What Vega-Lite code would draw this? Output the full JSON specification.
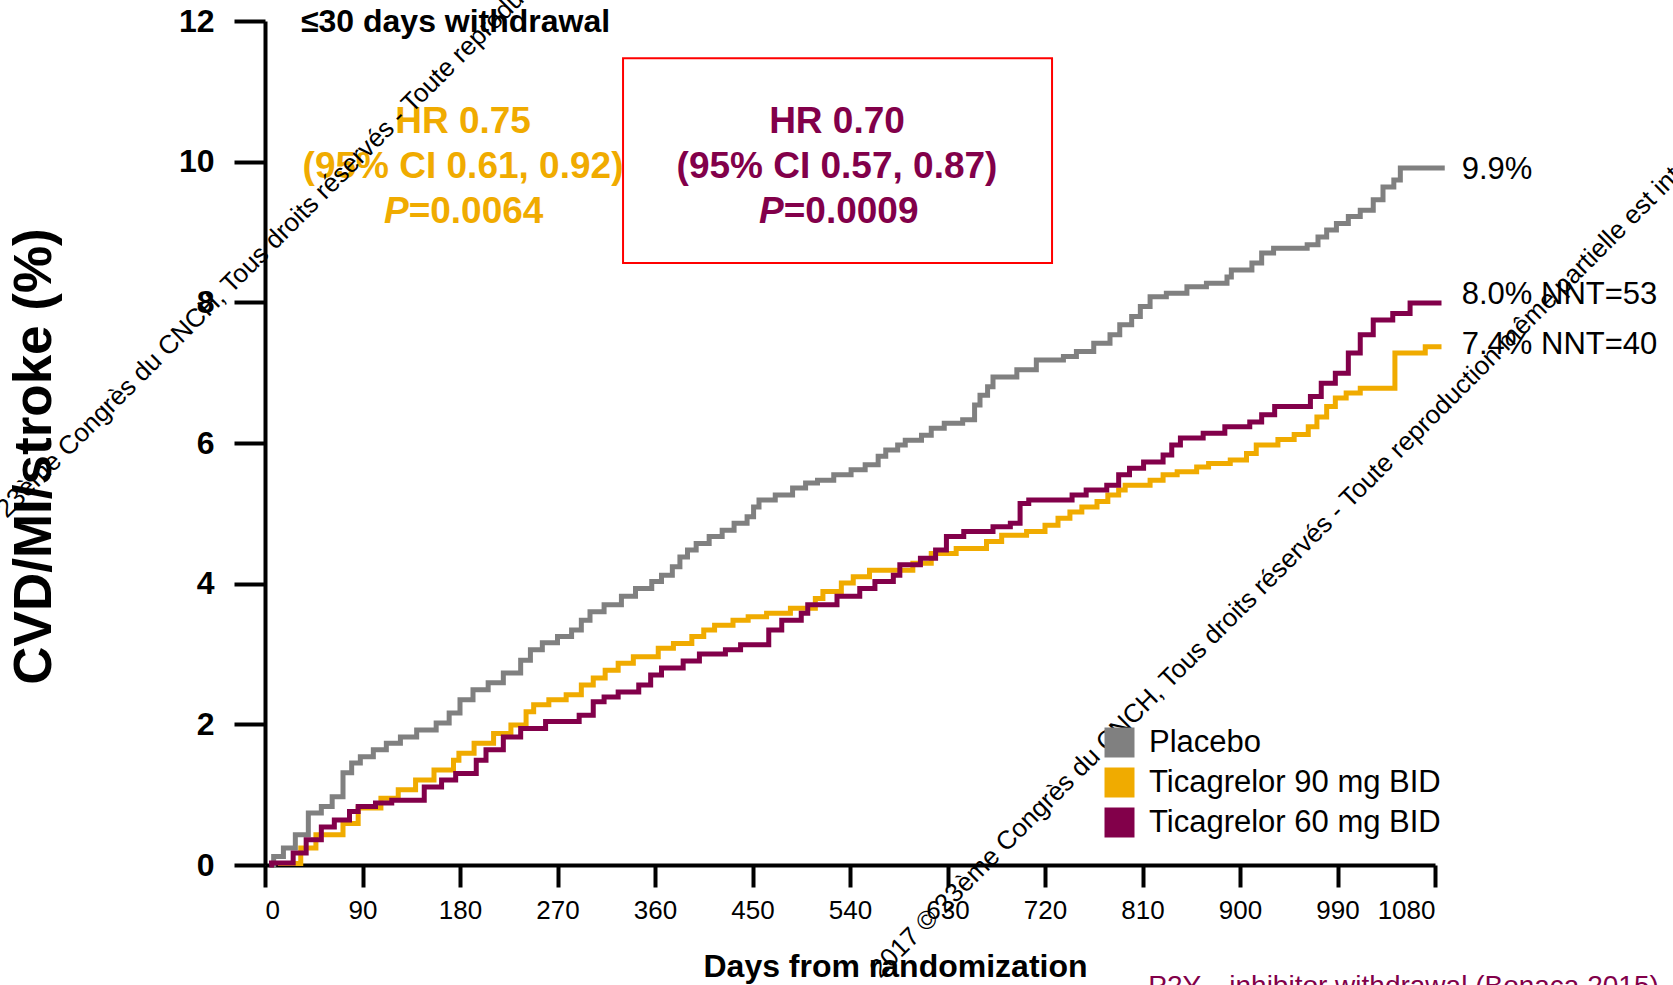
{
  "$schema": "https://vega.github.io/schema/vega-lite/v6.json",
  "width": 1170,
  "height": 844,
  "autosize": {"type": "none"},
  "padding": {"left": 265, "top": 21, "right": 238, "bottom": 120},
  "background": "white",
  "config": {"view": {"stroke": null}, "font": "Liberation Sans"},
  "data": {"values": [{}]},
  "datasets": {
    "curves": [
      {"arm": "Placebo", "day": 6, "pct": 0},
      {"arm": "Placebo", "day": 8, "pct": 0.12},
      {"arm": "Placebo", "day": 17, "pct": 0.24},
      {"arm": "Placebo", "day": 28, "pct": 0.43},
      {"arm": "Placebo", "day": 40, "pct": 0.74},
      {"arm": "Placebo", "day": 52, "pct": 0.83},
      {"arm": "Placebo", "day": 62, "pct": 0.97},
      {"arm": "Placebo", "day": 72, "pct": 1.31},
      {"arm": "Placebo", "day": 80, "pct": 1.45},
      {"arm": "Placebo", "day": 88, "pct": 1.54},
      {"arm": "Placebo", "day": 100, "pct": 1.64},
      {"arm": "Placebo", "day": 112, "pct": 1.73},
      {"arm": "Placebo", "day": 125, "pct": 1.82},
      {"arm": "Placebo", "day": 140, "pct": 1.92},
      {"arm": "Placebo", "day": 158, "pct": 2.02},
      {"arm": "Placebo", "day": 170, "pct": 2.16},
      {"arm": "Placebo", "day": 180, "pct": 2.35},
      {"arm": "Placebo", "day": 192, "pct": 2.49},
      {"arm": "Placebo", "day": 206, "pct": 2.59},
      {"arm": "Placebo", "day": 220, "pct": 2.73},
      {"arm": "Placebo", "day": 236, "pct": 2.91},
      {"arm": "Placebo", "day": 245, "pct": 3.06},
      {"arm": "Placebo", "day": 256, "pct": 3.16},
      {"arm": "Placebo", "day": 270, "pct": 3.25},
      {"arm": "Placebo", "day": 283, "pct": 3.34},
      {"arm": "Placebo", "day": 292, "pct": 3.48},
      {"arm": "Placebo", "day": 300, "pct": 3.6},
      {"arm": "Placebo", "day": 313, "pct": 3.7},
      {"arm": "Placebo", "day": 329, "pct": 3.82},
      {"arm": "Placebo", "day": 342, "pct": 3.93},
      {"arm": "Placebo", "day": 357, "pct": 4.03},
      {"arm": "Placebo", "day": 366, "pct": 4.12},
      {"arm": "Placebo", "day": 376, "pct": 4.24},
      {"arm": "Placebo", "day": 383, "pct": 4.38},
      {"arm": "Placebo", "day": 390, "pct": 4.48},
      {"arm": "Placebo", "day": 398, "pct": 4.57},
      {"arm": "Placebo", "day": 410, "pct": 4.67},
      {"arm": "Placebo", "day": 422, "pct": 4.76},
      {"arm": "Placebo", "day": 433, "pct": 4.86},
      {"arm": "Placebo", "day": 445, "pct": 4.95},
      {"arm": "Placebo", "day": 451, "pct": 5.09},
      {"arm": "Placebo", "day": 456, "pct": 5.19},
      {"arm": "Placebo", "day": 471, "pct": 5.26},
      {"arm": "Placebo", "day": 487, "pct": 5.36},
      {"arm": "Placebo", "day": 499, "pct": 5.43},
      {"arm": "Placebo", "day": 510, "pct": 5.47},
      {"arm": "Placebo", "day": 525, "pct": 5.55},
      {"arm": "Placebo", "day": 541, "pct": 5.62},
      {"arm": "Placebo", "day": 554, "pct": 5.69},
      {"arm": "Placebo", "day": 566, "pct": 5.81},
      {"arm": "Placebo", "day": 573, "pct": 5.9},
      {"arm": "Placebo", "day": 584, "pct": 5.97},
      {"arm": "Placebo", "day": 591, "pct": 6.04},
      {"arm": "Placebo", "day": 606, "pct": 6.11},
      {"arm": "Placebo", "day": 615, "pct": 6.21},
      {"arm": "Placebo", "day": 627, "pct": 6.28},
      {"arm": "Placebo", "day": 644, "pct": 6.33},
      {"arm": "Placebo", "day": 655, "pct": 6.54},
      {"arm": "Placebo", "day": 660, "pct": 6.68},
      {"arm": "Placebo", "day": 667, "pct": 6.8},
      {"arm": "Placebo", "day": 672, "pct": 6.94},
      {"arm": "Placebo", "day": 694, "pct": 7.04},
      {"arm": "Placebo", "day": 712, "pct": 7.18},
      {"arm": "Placebo", "day": 737, "pct": 7.23},
      {"arm": "Placebo", "day": 749, "pct": 7.3},
      {"arm": "Placebo", "day": 765, "pct": 7.42},
      {"arm": "Placebo", "day": 780, "pct": 7.54},
      {"arm": "Placebo", "day": 789, "pct": 7.68},
      {"arm": "Placebo", "day": 800, "pct": 7.8},
      {"arm": "Placebo", "day": 808, "pct": 7.94},
      {"arm": "Placebo", "day": 817, "pct": 8.08},
      {"arm": "Placebo", "day": 832, "pct": 8.13},
      {"arm": "Placebo", "day": 851, "pct": 8.22},
      {"arm": "Placebo", "day": 869, "pct": 8.27},
      {"arm": "Placebo", "day": 888, "pct": 8.36},
      {"arm": "Placebo", "day": 892, "pct": 8.46},
      {"arm": "Placebo", "day": 911, "pct": 8.56},
      {"arm": "Placebo", "day": 920, "pct": 8.7},
      {"arm": "Placebo", "day": 931, "pct": 8.77},
      {"arm": "Placebo", "day": 962, "pct": 8.82},
      {"arm": "Placebo", "day": 972, "pct": 8.93},
      {"arm": "Placebo", "day": 980, "pct": 9.03},
      {"arm": "Placebo", "day": 989, "pct": 9.12},
      {"arm": "Placebo", "day": 1000, "pct": 9.22},
      {"arm": "Placebo", "day": 1011, "pct": 9.31},
      {"arm": "Placebo", "day": 1023, "pct": 9.46},
      {"arm": "Placebo", "day": 1032, "pct": 9.64},
      {"arm": "Placebo", "day": 1042, "pct": 9.74},
      {"arm": "Placebo", "day": 1048, "pct": 9.91},
      {"arm": "Placebo", "day": 1089, "pct": 9.91},
      {"arm": "Ticagrelor 90 mg BID", "day": 12, "pct": 0.02},
      {"arm": "Ticagrelor 90 mg BID", "day": 33, "pct": 0.24},
      {"arm": "Ticagrelor 90 mg BID", "day": 47, "pct": 0.43},
      {"arm": "Ticagrelor 90 mg BID", "day": 72, "pct": 0.59},
      {"arm": "Ticagrelor 90 mg BID", "day": 86, "pct": 0.81},
      {"arm": "Ticagrelor 90 mg BID", "day": 107, "pct": 0.95},
      {"arm": "Ticagrelor 90 mg BID", "day": 123, "pct": 1.07},
      {"arm": "Ticagrelor 90 mg BID", "day": 139, "pct": 1.21},
      {"arm": "Ticagrelor 90 mg BID", "day": 156, "pct": 1.35},
      {"arm": "Ticagrelor 90 mg BID", "day": 174, "pct": 1.49},
      {"arm": "Ticagrelor 90 mg BID", "day": 179, "pct": 1.59},
      {"arm": "Ticagrelor 90 mg BID", "day": 193, "pct": 1.73},
      {"arm": "Ticagrelor 90 mg BID", "day": 211, "pct": 1.87},
      {"arm": "Ticagrelor 90 mg BID", "day": 227, "pct": 1.99},
      {"arm": "Ticagrelor 90 mg BID", "day": 241, "pct": 2.18},
      {"arm": "Ticagrelor 90 mg BID", "day": 248, "pct": 2.28},
      {"arm": "Ticagrelor 90 mg BID", "day": 262, "pct": 2.35},
      {"arm": "Ticagrelor 90 mg BID", "day": 278, "pct": 2.42},
      {"arm": "Ticagrelor 90 mg BID", "day": 292, "pct": 2.56},
      {"arm": "Ticagrelor 90 mg BID", "day": 303, "pct": 2.66},
      {"arm": "Ticagrelor 90 mg BID", "day": 314, "pct": 2.77},
      {"arm": "Ticagrelor 90 mg BID", "day": 326, "pct": 2.87},
      {"arm": "Ticagrelor 90 mg BID", "day": 340, "pct": 2.96},
      {"arm": "Ticagrelor 90 mg BID", "day": 363, "pct": 3.08},
      {"arm": "Ticagrelor 90 mg BID", "day": 377, "pct": 3.15},
      {"arm": "Ticagrelor 90 mg BID", "day": 394, "pct": 3.25},
      {"arm": "Ticagrelor 90 mg BID", "day": 405, "pct": 3.34},
      {"arm": "Ticagrelor 90 mg BID", "day": 415, "pct": 3.41},
      {"arm": "Ticagrelor 90 mg BID", "day": 432, "pct": 3.48},
      {"arm": "Ticagrelor 90 mg BID", "day": 446, "pct": 3.53},
      {"arm": "Ticagrelor 90 mg BID", "day": 463, "pct": 3.58},
      {"arm": "Ticagrelor 90 mg BID", "day": 485, "pct": 3.65},
      {"arm": "Ticagrelor 90 mg BID", "day": 508, "pct": 3.79},
      {"arm": "Ticagrelor 90 mg BID", "day": 515, "pct": 3.89},
      {"arm": "Ticagrelor 90 mg BID", "day": 532, "pct": 4.01},
      {"arm": "Ticagrelor 90 mg BID", "day": 543, "pct": 4.1},
      {"arm": "Ticagrelor 90 mg BID", "day": 558, "pct": 4.19},
      {"arm": "Ticagrelor 90 mg BID", "day": 598, "pct": 4.29},
      {"arm": "Ticagrelor 90 mg BID", "day": 615, "pct": 4.43},
      {"arm": "Ticagrelor 90 mg BID", "day": 638, "pct": 4.5},
      {"arm": "Ticagrelor 90 mg BID", "day": 666, "pct": 4.6},
      {"arm": "Ticagrelor 90 mg BID", "day": 680, "pct": 4.69},
      {"arm": "Ticagrelor 90 mg BID", "day": 703, "pct": 4.74},
      {"arm": "Ticagrelor 90 mg BID", "day": 720, "pct": 4.83},
      {"arm": "Ticagrelor 90 mg BID", "day": 732, "pct": 4.93},
      {"arm": "Ticagrelor 90 mg BID", "day": 743, "pct": 5.02},
      {"arm": "Ticagrelor 90 mg BID", "day": 754, "pct": 5.09},
      {"arm": "Ticagrelor 90 mg BID", "day": 768, "pct": 5.17},
      {"arm": "Ticagrelor 90 mg BID", "day": 778, "pct": 5.26},
      {"arm": "Ticagrelor 90 mg BID", "day": 788, "pct": 5.33},
      {"arm": "Ticagrelor 90 mg BID", "day": 794, "pct": 5.4},
      {"arm": "Ticagrelor 90 mg BID", "day": 817, "pct": 5.47},
      {"arm": "Ticagrelor 90 mg BID", "day": 829, "pct": 5.55},
      {"arm": "Ticagrelor 90 mg BID", "day": 842, "pct": 5.59},
      {"arm": "Ticagrelor 90 mg BID", "day": 860, "pct": 5.66},
      {"arm": "Ticagrelor 90 mg BID", "day": 871, "pct": 5.71},
      {"arm": "Ticagrelor 90 mg BID", "day": 891, "pct": 5.76},
      {"arm": "Ticagrelor 90 mg BID", "day": 906, "pct": 5.85},
      {"arm": "Ticagrelor 90 mg BID", "day": 915, "pct": 5.97},
      {"arm": "Ticagrelor 90 mg BID", "day": 935, "pct": 6.05},
      {"arm": "Ticagrelor 90 mg BID", "day": 950, "pct": 6.12},
      {"arm": "Ticagrelor 90 mg BID", "day": 963, "pct": 6.23},
      {"arm": "Ticagrelor 90 mg BID", "day": 971, "pct": 6.37},
      {"arm": "Ticagrelor 90 mg BID", "day": 980, "pct": 6.52},
      {"arm": "Ticagrelor 90 mg BID", "day": 988, "pct": 6.64},
      {"arm": "Ticagrelor 90 mg BID", "day": 998, "pct": 6.71},
      {"arm": "Ticagrelor 90 mg BID", "day": 1011, "pct": 6.78},
      {"arm": "Ticagrelor 90 mg BID", "day": 1043, "pct": 7.28},
      {"arm": "Ticagrelor 90 mg BID", "day": 1071, "pct": 7.37},
      {"arm": "Ticagrelor 90 mg BID", "day": 1086, "pct": 7.37},
      {"arm": "Ticagrelor 60 mg BID", "day": 4, "pct": 0},
      {"arm": "Ticagrelor 60 mg BID", "day": 6, "pct": 0.03},
      {"arm": "Ticagrelor 60 mg BID", "day": 26, "pct": 0.17},
      {"arm": "Ticagrelor 60 mg BID", "day": 38, "pct": 0.36},
      {"arm": "Ticagrelor 60 mg BID", "day": 52, "pct": 0.54},
      {"arm": "Ticagrelor 60 mg BID", "day": 64, "pct": 0.64},
      {"arm": "Ticagrelor 60 mg BID", "day": 78, "pct": 0.76},
      {"arm": "Ticagrelor 60 mg BID", "day": 86, "pct": 0.83},
      {"arm": "Ticagrelor 60 mg BID", "day": 102, "pct": 0.88},
      {"arm": "Ticagrelor 60 mg BID", "day": 117, "pct": 0.92},
      {"arm": "Ticagrelor 60 mg BID", "day": 147, "pct": 1.11},
      {"arm": "Ticagrelor 60 mg BID", "day": 163, "pct": 1.21},
      {"arm": "Ticagrelor 60 mg BID", "day": 176, "pct": 1.3},
      {"arm": "Ticagrelor 60 mg BID", "day": 195, "pct": 1.49},
      {"arm": "Ticagrelor 60 mg BID", "day": 204, "pct": 1.64},
      {"arm": "Ticagrelor 60 mg BID", "day": 220, "pct": 1.82},
      {"arm": "Ticagrelor 60 mg BID", "day": 236, "pct": 1.94},
      {"arm": "Ticagrelor 60 mg BID", "day": 259, "pct": 2.04},
      {"arm": "Ticagrelor 60 mg BID", "day": 290, "pct": 2.13},
      {"arm": "Ticagrelor 60 mg BID", "day": 303, "pct": 2.32},
      {"arm": "Ticagrelor 60 mg BID", "day": 313, "pct": 2.39},
      {"arm": "Ticagrelor 60 mg BID", "day": 326, "pct": 2.46},
      {"arm": "Ticagrelor 60 mg BID", "day": 345, "pct": 2.56},
      {"arm": "Ticagrelor 60 mg BID", "day": 356, "pct": 2.7},
      {"arm": "Ticagrelor 60 mg BID", "day": 366, "pct": 2.8},
      {"arm": "Ticagrelor 60 mg BID", "day": 386, "pct": 2.9},
      {"arm": "Ticagrelor 60 mg BID", "day": 401, "pct": 3.0},
      {"arm": "Ticagrelor 60 mg BID", "day": 425, "pct": 3.06},
      {"arm": "Ticagrelor 60 mg BID", "day": 439, "pct": 3.13},
      {"arm": "Ticagrelor 60 mg BID", "day": 465, "pct": 3.34},
      {"arm": "Ticagrelor 60 mg BID", "day": 477, "pct": 3.48},
      {"arm": "Ticagrelor 60 mg BID", "day": 495, "pct": 3.58},
      {"arm": "Ticagrelor 60 mg BID", "day": 501, "pct": 3.7},
      {"arm": "Ticagrelor 60 mg BID", "day": 528, "pct": 3.82},
      {"arm": "Ticagrelor 60 mg BID", "day": 549, "pct": 3.93},
      {"arm": "Ticagrelor 60 mg BID", "day": 563, "pct": 4.03},
      {"arm": "Ticagrelor 60 mg BID", "day": 580, "pct": 4.12},
      {"arm": "Ticagrelor 60 mg BID", "day": 586, "pct": 4.27},
      {"arm": "Ticagrelor 60 mg BID", "day": 605, "pct": 4.36},
      {"arm": "Ticagrelor 60 mg BID", "day": 619, "pct": 4.48},
      {"arm": "Ticagrelor 60 mg BID", "day": 629, "pct": 4.67},
      {"arm": "Ticagrelor 60 mg BID", "day": 645, "pct": 4.74},
      {"arm": "Ticagrelor 60 mg BID", "day": 672, "pct": 4.81},
      {"arm": "Ticagrelor 60 mg BID", "day": 688, "pct": 4.86},
      {"arm": "Ticagrelor 60 mg BID", "day": 697, "pct": 5.14},
      {"arm": "Ticagrelor 60 mg BID", "day": 705, "pct": 5.19},
      {"arm": "Ticagrelor 60 mg BID", "day": 745, "pct": 5.26},
      {"arm": "Ticagrelor 60 mg BID", "day": 758, "pct": 5.33},
      {"arm": "Ticagrelor 60 mg BID", "day": 777, "pct": 5.4},
      {"arm": "Ticagrelor 60 mg BID", "day": 788, "pct": 5.55},
      {"arm": "Ticagrelor 60 mg BID", "day": 798, "pct": 5.64},
      {"arm": "Ticagrelor 60 mg BID", "day": 811, "pct": 5.73},
      {"arm": "Ticagrelor 60 mg BID", "day": 829, "pct": 5.83},
      {"arm": "Ticagrelor 60 mg BID", "day": 837, "pct": 5.97},
      {"arm": "Ticagrelor 60 mg BID", "day": 845, "pct": 6.07},
      {"arm": "Ticagrelor 60 mg BID", "day": 866, "pct": 6.14},
      {"arm": "Ticagrelor 60 mg BID", "day": 886, "pct": 6.23},
      {"arm": "Ticagrelor 60 mg BID", "day": 909, "pct": 6.3},
      {"arm": "Ticagrelor 60 mg BID", "day": 920, "pct": 6.4},
      {"arm": "Ticagrelor 60 mg BID", "day": 932, "pct": 6.52},
      {"arm": "Ticagrelor 60 mg BID", "day": 965, "pct": 6.66},
      {"arm": "Ticagrelor 60 mg BID", "day": 975, "pct": 6.85},
      {"arm": "Ticagrelor 60 mg BID", "day": 988, "pct": 6.99},
      {"arm": "Ticagrelor 60 mg BID", "day": 1000, "pct": 7.28},
      {"arm": "Ticagrelor 60 mg BID", "day": 1011, "pct": 7.54},
      {"arm": "Ticagrelor 60 mg BID", "day": 1023, "pct": 7.75},
      {"arm": "Ticagrelor 60 mg BID", "day": 1041, "pct": 7.84},
      {"arm": "Ticagrelor 60 mg BID", "day": 1057, "pct": 7.99},
      {"arm": "Ticagrelor 60 mg BID", "day": 1086, "pct": 7.99}
    ]
  },
  "layer": [
    {
      "data": {"name": "curves"},
      "mark": {"type": "line", "interpolate": "step-after", "strokeWidth": 5, "strokeJoin": "miter"},
      "encoding": {
        "x": {
          "field": "day", "type": "quantitative",
          "scale": {"domain": [0, 1080], "nice": false, "zero": false},
          "axis": {
            "values": [0, 90, 180, 270, 360, 450, 540, 630, 720, 810, 900, 990, 1080],
            "format": "d",
            "grid": false, "domainColor": "black", "domainWidth": 4,
            "tickColor": "black", "tickWidth": 4, "tickSize": 22,
            "labelFont": "Liberation Sans", "labelFontSize": 26, "labelColor": "black", "labelPadding": 10,
            "title": "Days from randomization", "titleFont": "Liberation Sans", "titleFontSize": 32, "titleFontWeight": "bold", "titleColor": "black",
            "titlePadding": 28, "titleX": 630
          }
        },
        "y": {
          "field": "pct", "type": "quantitative",
          "scale": {"domain": [0, 12], "nice": false},
          "axis": {
            "values": [0, 2, 4, 6, 8, 10, 12],
            "format": "d",
            "grid": false, "domainColor": "black", "domainWidth": 4,
            "tickColor": "black", "tickWidth": 4, "tickSize": 31,
            "labelFont": "Liberation Sans", "labelFontSize": 32, "labelFontWeight": "bold", "labelColor": "black", "labelPadding": 20,
            "title": "CVD/MI/stroke (%)", "titleFont": "Liberation Sans", "titleFontSize": 53, "titleFontWeight": "bold", "titleColor": "black",
            "titlePadding": 117, "titleY": 435
          }
        },
        "color": {
          "field": "arm", "type": "nominal",
          "scale": {"domain": ["Placebo", "Ticagrelor 90 mg BID", "Ticagrelor 60 mg BID"], "range": ["#808080", "#F0AB00", "#82004A"]},
          "legend": {
            "title": null, "orient": "none", "legendX": 839, "legendY": 706,
            "symbolType": "square", "symbolSize": 900, "symbolStrokeWidth": 0,
            "labelFont": "Liberation Sans", "labelFontSize": 31, "labelColor": "black", "labelOffset": 14, "labelLimit": 600,
            "rowPadding": 8, "padding": 0,
            "encode": {"symbols": {"update": {"fill": {"scale": "color", "field": "value"}, "fillOpacity": {"value": 1}, "stroke": {"value": "transparent"}}}}
          }
        }
      }
    },
    {
      "mark": {"type": "rect", "fill": "transparent", "stroke": "#FF0000", "strokeWidth": 2},
      "encoding": {"x": {"datum": 330.5}, "x2": {"datum": 726.5}, "y": {"datum": 11.47}, "y2": {"datum": 8.56}}
    },
    {
      "mark": {"type": "text", "text": "≤30 days withdrawal", "font": "Liberation Sans", "fontSize": 32, "fontWeight": "bold", "color": "black", "align": "left", "baseline": "middle"},
      "encoding": {"x": {"datum": 33.2}, "y": {"datum": 11.99}}
    },
    {
      "mark": {"type": "text", "text": "HR 0.75", "font": "Liberation Sans", "fontSize": 37, "fontWeight": "bold", "color": "#F0AB00", "align": "center", "baseline": "middle"},
      "encoding": {"x": {"datum": 182.8}, "y": {"datum": 10.57}}
    },
    {
      "mark": {"type": "text", "text": "(95% CI 0.61, 0.92)", "font": "Liberation Sans", "fontSize": 37, "fontWeight": "bold", "color": "#F0AB00", "align": "center", "baseline": "middle"},
      "encoding": {"x": {"datum": 182.8}, "y": {"datum": 9.92}}
    },
    {
      "mark": {"type": "text", "text": "P", "font": "Liberation Sans", "fontSize": 37, "fontWeight": "bold", "fontStyle": "italic", "color": "#F0AB00", "align": "right", "baseline": "middle"},
      "encoding": {"x": {"datum": 132.6}, "y": {"datum": 9.29}}
    },
    {
      "mark": {"type": "text", "text": "=0.0064", "font": "Liberation Sans", "fontSize": 37, "fontWeight": "bold", "color": "#F0AB00", "align": "left", "baseline": "middle"},
      "encoding": {"x": {"datum": 132.6}, "y": {"datum": 9.29}}
    },
    {
      "mark": {"type": "text", "text": "HR 0.70", "font": "Liberation Sans", "fontSize": 37, "fontWeight": "bold", "color": "#82004A", "align": "center", "baseline": "middle"},
      "encoding": {"x": {"datum": 528}, "y": {"datum": 10.57}}
    },
    {
      "mark": {"type": "text", "text": "(95% CI 0.57, 0.87)", "font": "Liberation Sans", "fontSize": 37, "fontWeight": "bold", "color": "#82004A", "align": "center", "baseline": "middle"},
      "encoding": {"x": {"datum": 528}, "y": {"datum": 9.92}}
    },
    {
      "mark": {"type": "text", "text": "P", "font": "Liberation Sans", "fontSize": 37, "fontWeight": "bold", "fontStyle": "italic", "color": "#82004A", "align": "right", "baseline": "middle"},
      "encoding": {"x": {"datum": 478.8}, "y": {"datum": 9.29}}
    },
    {
      "mark": {"type": "text", "text": "=0.0009", "font": "Liberation Sans", "fontSize": 37, "fontWeight": "bold", "color": "#82004A", "align": "left", "baseline": "middle"},
      "encoding": {"x": {"datum": 478.8}, "y": {"datum": 9.29}}
    },
    {
      "mark": {"type": "text", "text": "9.9%", "font": "Liberation Sans", "fontSize": 31, "color": "black", "align": "left", "baseline": "middle"},
      "encoding": {"x": {"datum": 1104.7}, "y": {"datum": 9.88}}
    },
    {
      "mark": {"type": "text", "text": "8.0% NNT=53", "font": "Liberation Sans", "fontSize": 31, "color": "black", "align": "left", "baseline": "middle"},
      "encoding": {"x": {"datum": 1104.7}, "y": {"datum": 8.1}}
    },
    {
      "mark": {"type": "text", "text": "7.4% NNT=40", "font": "Liberation Sans", "fontSize": 31, "color": "black", "align": "left", "baseline": "middle"},
      "encoding": {"x": {"datum": 1104.7}, "y": {"datum": 7.4}}
    },
    {
      "mark": {"type": "text", "text": "P2Y₁₂ inhibitor withdrawal (Bonaca 2015)", "font": "Liberation Sans", "fontSize": 28, "color": "#82004A", "align": "left", "baseline": "top"},
      "encoding": {"x": {"datum": 815.3}, "y": {"datum": -1.53}}
    },
    {
      "mark": {"type": "text", "text": "2017 © 23ème Congrès du CNCH, Tous droits réservés - Toute reproduction même partielle est interdite", "font": "Liberation Sans", "fontSize": 26, "color": "black", "align": "left", "baseline": "alphabetic", "angle": -45},
      "encoding": {"x": {"datum": -298}, "y": {"datum": 4.0}}
    },
    {
      "mark": {"type": "text", "text": "2017 © 23ème Congrès du CNCH, Tous droits réservés - Toute reproduction même partielle est interdite", "font": "Liberation Sans", "fontSize": 26, "color": "black", "align": "left", "baseline": "alphabetic", "angle": -45},
      "encoding": {"x": {"datum": 568}, "y": {"datum": -1.62}}
    }
  ]
}
